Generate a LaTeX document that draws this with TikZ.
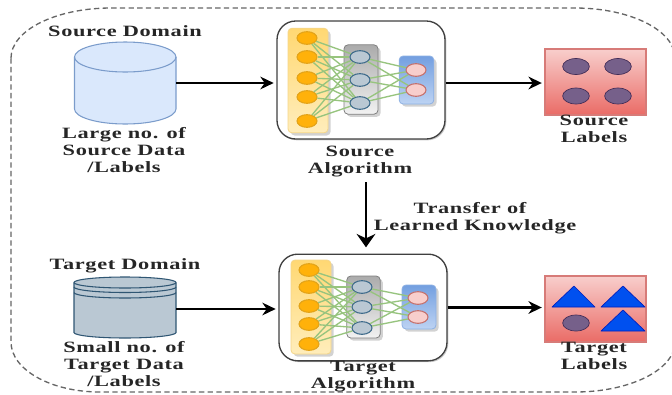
\documentclass[tikz,border=0pt]{standalone}
\usepackage{fontspec}
\setmainfont{Liberation Serif}[FakeStretch=1.42,LetterSpace=4]
\usetikzlibrary{arrows.meta,shapes.geometric,shadows,calc}
\definecolor{synapse}{HTML}{97C47E}
\definecolor{ylTop}{HTML}{FFD873}
\definecolor{ylBot}{HTML}{FFEDBB}
\definecolor{ylEdge}{HTML}{F5D68A}
\definecolor{grTop}{HTML}{ABABAB}
\definecolor{grBot}{HTML}{F2F2F2}
\definecolor{blTop}{HTML}{739FE0}
\definecolor{blBot}{HTML}{BDD3F3}
\definecolor{blEdge}{HTML}{8DB0E3}
\definecolor{rdTop}{HTML}{F8CECC}
\definecolor{rdBot}{HTML}{EA6B66}
\definecolor{rdEdge}{HTML}{D77B78}
\definecolor{dbBlue}{HTML}{DAE8FC}
\definecolor{dbBlueEdge}{HTML}{7B9CCB}
\definecolor{dbSlate}{HTML}{BAC8D3}
\definecolor{dbSlateEdge}{HTML}{2F5673}
\definecolor{nYellow}{HTML}{FFB10A}
\definecolor{nYellowEdge}{HTML}{E2A31A}
\definecolor{nSlateEdge}{HTML}{3D6A8A}
\definecolor{nPink}{HTML}{F8CECC}
\definecolor{nPinkEdge}{HTML}{C4706C}
\definecolor{dotFill}{HTML}{76608A}
\definecolor{dotEdge}{HTML}{432D57}
\definecolor{triFill}{HTML}{0050EF}
\definecolor{triEdge}{HTML}{001DBC}
\tikzset{
  lbl/.style={font=\fontsize{11.8}{12.4}\selectfont\bfseries,align=center,text=black!85,inner sep=0pt},
  flow/.style={-{Stealth[length=10pt,width=9.5pt]},line width=1.6pt,black},
  bigflow/.style={-{Stealth[length=10pt,width=14pt]},line width=2.2pt,black},
  algbox/.style={draw=black!75,line width=1pt,rounded corners=14pt,fill=white,inner sep=0pt,drop shadow={shadow xshift=1pt,shadow yshift=-1pt,opacity=.4}},
  layerbox/.style={rounded corners=3pt,inner sep=0pt,line width=.6pt,drop shadow={shadow xshift=2pt,shadow yshift=-2pt,opacity=.35}},
  yellowlayer/.style={layerbox,draw=ylEdge,top color=ylTop,bottom color=ylBot},
  graylayer/.style={layerbox,draw=black!50,top color=grTop,bottom color=grBot},
  bluelayer/.style={layerbox,draw=blEdge,top color=blTop,bottom color=blBot},
  neuron/.style={ellipse,inner sep=0pt,minimum width=15pt,minimum height=9.5pt,line width=.8pt},
  ny/.style={neuron,fill=nYellow,draw=nYellowEdge},
  ng/.style={neuron,fill=dbSlate,draw=nSlateEdge},
  nr/.style={neuron,fill=nPink,draw=nPinkEdge},
  labelbox/.style={draw=rdEdge,line width=.8pt,top color=rdTop,bottom color=rdBot,inner sep=0pt},
  labeldot/.style={ellipse,inner sep=0pt,minimum width=20pt,minimum height=12pt,fill=dotFill,draw=dotEdge,line width=.5pt},
  labeltri/.style={fill=triFill,draw=triEdge,line width=.5pt,line join=round},
  wire/.style={synapse,line width=1pt},
}
\begin{document}
\begin{tikzpicture}[x=.75pt,y=-.75pt]
\useasboundingbox (0,0) rectangle (672,394);
\begin{scope}
\clip (0,0) rectangle (672,394);
\draw[black!60,dash pattern=on 4pt off 2.5pt,line width=1pt]
  (11,58) arc[start angle=180,end angle=270,x radius=100,y radius=50]
  -- (575,8) arc[start angle=270,end angle=360,x radius=100,y radius=50]
  -- (675,342) arc[start angle=0,end angle=90,x radius=100,y radius=50]
  -- (100,392) arc[start angle=90,end angle=180,x radius=89,y radius=50]
  -- cycle;
\end{scope}

% databases
\node[inner sep=0pt,minimum width=76.5pt,minimum height=61.5pt] (srcdb) at (125,83) {};
\draw[fill=dbBlue,draw=dbBlueEdge,line width=.8pt] (74.5,57) -- (74.5,109) arc[start angle=180,end angle=0,x radius=50.75,y radius=15] -- (176,57) arc[start angle=0,end angle=-180,x radius=50.75,y radius=15] -- cycle;
\draw[draw=dbBlueEdge,line width=.8pt] (74.5,57) arc[start angle=180,end angle=0,x radius=50.75,y radius=15];
\node[inner sep=0pt,minimum width=76.5pt,minimum height=46pt] (tgtdb) at (125,309) {};
\draw[fill=dbSlate,draw=dbSlateEdge,line width=.8pt] (74,282.5) -- (74,332.5) arc[start angle=180,end angle=0,x radius=51,y radius=5.5] -- (176,282.5) arc[start angle=0,end angle=-180,x radius=51,y radius=5.5] -- cycle;
\foreach \yy in {282.5,287,292.5}
  \draw[draw=dbSlateEdge,line width=.8pt] (74,\yy) arc[start angle=180,end angle=0,x radius=51,y radius=5.5];

% algorithm boxes
\node[algbox,minimum width=126pt,minimum height=88.5pt] (srcalg) at (361,80) {};
\node[algbox,minimum width=126pt,minimum height=80pt] (tgtalg) at (363,307.5) {};

% source network
\node[yellowlayer,minimum width=30pt,minimum height=78.5pt] (sy) at (308,80.5) {};
\node[graylayer,minimum width=25.5pt,minimum height=52pt] (sg) at (361,79.5) {};
\node[bluelayer,minimum width=26pt,minimum height=36pt] (sb) at (416.5,80) {};
\foreach \n/\yy in {1/38,2/57,3/78,4/97,5/121} \node[ny] (sy\n) at (307,\yy) {};
\foreach \n/\yy in {1/57,2/80,3/103} \node[ng] (sg\n) at (360,\yy) {};
\foreach \n/\yy in {1/70,2/90} \node[nr] (sb\n) at (416,\yy) {};
\foreach \a in {1,...,5} \foreach \b in {1,2,3} \draw[wire] (sy\a) -- (sg\b);
\foreach \a in {1,2,3} \foreach \b in {1,2} \draw[wire] (sg\a) -- (sb\b);

% target network
\node[yellowlayer,minimum width=30pt,minimum height=70.5pt] (ty) at (311,307) {};
\node[graylayer,minimum width=25pt,minimum height=46.5pt] (tg) at (363.5,307) {};
\node[bluelayer,minimum width=25.5pt,minimum height=33pt] (tb) at (419,307) {};
\foreach \n/\yy in {1/270,2/287,3/306,4/324,5/344} \node[ny] (ty\n) at (309,\yy) {};
\foreach \n/\yy in {1/287,2/307,3/328} \node[ng] (tg\n) at (362,\yy) {};
\foreach \n/\yy in {1/298,2/317} \node[nr] (tb\n) at (418,\yy) {};
\foreach \a in {1,...,5} \foreach \b in {1,2,3} \draw[wire] (ty\a) -- (tg\b);
\foreach \a in {1,2,3} \foreach \b in {1,2} \draw[wire] (tg\a) -- (tb\b);

% label boxes
\node[labelbox,minimum width=75.75pt,minimum height=49.5pt] (srclab) at (595.5,82) {};
\foreach \p/\q in {576/66.5,618/66.5,576/96,618/96} \node[labeldot] at (\p,\q) {};
\node[labelbox,minimum width=75.75pt,minimum height=49.5pt] (tgtlab) at (595.5,309) {};
\draw[labeltri] (552,307) -- (595,307) -- (574,286) -- cycle;
\draw[labeltri] (601,307) -- (645,307) -- (623,286) -- cycle;
\draw[labeltri] (601,331) -- (645,331) -- (623,310) -- cycle;
\node[labeldot] at (576,323) {};

% connectors
\draw[flow,shorten >=2pt] (srcdb.east) -- (srcdb.east -| srcalg.west);
\draw[flow,shorten >=2pt] (srcalg.east |- srcdb.east) -- (srclab.west |- srcdb.east);
\draw[flow,shorten >=2pt] (tgtdb.east) -- (tgtdb.east -| tgtalg.west);
\draw[flow,shorten >=2pt] (tgtalg.east) -- (tgtalg.east -| tgtlab.west);
\coordinate (xferstart) at (366,182);
\coordinate (xferend) at (366,254);
\draw[bigflow,shorten >=5pt] (xferstart) -- (xferend);

% texts
\node[lbl] (t1) at (125,31) {Source Domain};
\node[lbl] (t2) at (124,150) {Large no. of\\Source Data\\/Labels};
\node[lbl] (t3) at (594,129) {Source\\Labels};
\node[lbl] (t4) at (360,161.5) {Source\\Algorithm};
\node[lbl] (t5) at (475,218) {Transfer of\hspace*{7.5pt}\\Learned Knowledge};
\node[lbl] (t6) at (125,266) {Target Domain};
\node[lbl] (t7) at (124,364) {Small no. of\\Target Data\\/Labels};
\node[lbl] (t8) at (594,356) {Target\\Labels};
\node[lbl] (t9) at (363,376.5) {Target\\Algorithm};
\end{tikzpicture}
\end{document}
